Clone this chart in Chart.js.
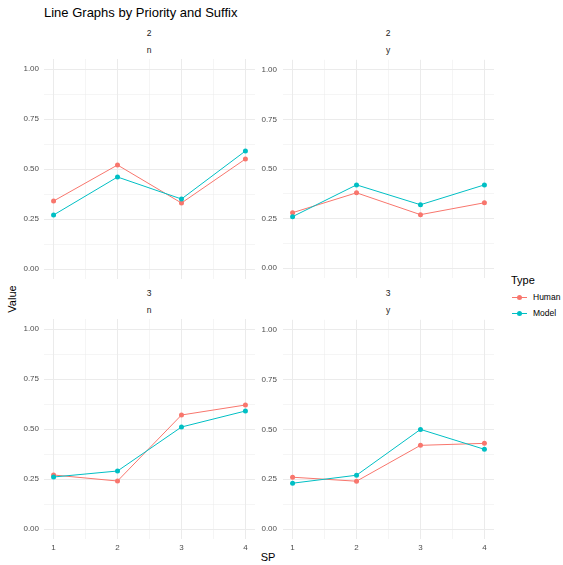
<!DOCTYPE html>
<html>
<head>
    <title>Line Graphs by Priority and Suffix</title>
    <script src="https://cdn.jsdelivr.net/npm/chart.js"></script>
    <style>
        body { margin: 0; background: #fff; font-family: "Liberation Sans", Arial, Helvetica, sans-serif; }
        #wrap { position: relative; width: 563px; height: 565px; overflow: hidden; }
        .panel { position: absolute; }
        .txt { position: absolute; white-space: nowrap; line-height: 1; }
        .strip { font-size: 8.5px; color: #1a1a1a; transform: translate(-50%, -50%); }
        .key { position: absolute; }
    </style>
</head>
<body>
<div id="wrap">
    <div class="txt" style="left:44px; top:6px; font-size:13px; color:#000;">Line Graphs by Priority and Suffix</div>

    <div class="txt strip" style="left:149px; top:33px;">2</div>
    <div class="txt strip" style="left:149px; top:50px;">n</div>
    <div class="txt strip" style="left:388px; top:33px;">2</div>
    <div class="txt strip" style="left:388px; top:50px;">y</div>
    <div class="txt strip" style="left:149px; top:293px;">3</div>
    <div class="txt strip" style="left:149px; top:310px;">n</div>
    <div class="txt strip" style="left:388px; top:293px;">3</div>
    <div class="txt strip" style="left:388px; top:310px;">y</div>

    <div class="txt" style="left:12px; top:299px; font-size:11px; color:#000; transform: translate(-50%, -50%) rotate(-90deg);">Value</div>
    <div class="txt" style="left:268px; top:557px; font-size:11px; color:#000; transform: translate(-50%, -50%);">SP</div>

    <div id="legend"></div>

    <div class="panel" style="left:0px; top:49px;"><canvas id="p1" width="265" height="240"></canvas></div>
    <div class="panel" style="left:258px; top:49px;"><canvas id="p2" width="246" height="240"></canvas></div>
    <div class="panel" style="left:0px; top:309px;"><canvas id="p3" width="265" height="246"></canvas></div>
    <div class="panel" style="left:258px; top:309px;"><canvas id="p4" width="246" height="246"></canvas></div>
</div>

<script>
// SP positions and tick labels
const sp = [1, 2, 3, 4];
const xMinor = [1.5, 2.5, 3.5];
const yTicks = [0, 0.25, 0.5, 0.75, 1];
const yTickLabels = ['0.00', '0.25', '0.50', '0.75', '1.00'];
const yMinor = [0.125, 0.375, 0.625, 0.875];

// series values, one pair per facet (priority / suffix)
const human2n = [0.34, 0.52, 0.33, 0.55];
const model2n = [0.27, 0.46, 0.35, 0.59];
const human2y = [0.28, 0.38, 0.27, 0.33];
const model2y = [0.26, 0.42, 0.32, 0.42];
const human3n = [0.27, 0.24, 0.57, 0.62];
const model3n = [0.26, 0.29, 0.51, 0.59];
const human3y = [0.26, 0.24, 0.42, 0.43];
const model3y = [0.23, 0.27, 0.50, 0.40];

const types = ['Human', 'Model'];
const colors = ['#F8766D', '#00BFC4'];

const gridColor = '#EBEBEB';
const tickColor = '#4D4D4D';
const font = '"Liberation Sans", Arial, Helvetica, sans-serif';

function isMajor(v, list) {
    return list.some(t => Math.abs(t - v) < 1e-9);
}

function makePanel(id, human, model, showX, yWidth, yPad) {
    const series = [human, model];
    const datasets = series.map((vals, i) => ({
        label: types[i],
        data: sp.map((x, j) => ({ x: x, y: vals[j] })),
        borderColor: colors[i],
        backgroundColor: colors[i],
        borderWidth: 1,
        pointRadius: 2.5,
        pointBorderWidth: 0,
        pointBackgroundColor: colors[i],
        tension: 0,
        fill: false,
        order: 1 - i
    }));

    new Chart(document.getElementById(id).getContext('2d'), {
        type: 'line',
        data: { datasets: datasets },
        options: {
            responsive: false,
            animation: false,
            layout: { padding: { left: 0, top: 10, right: 10, bottom: showX ? 2 : 10 } },
            plugins: { legend: { display: false }, tooltip: { enabled: false } },
            scales: {
                x: {
                    type: 'linear',
                    min: 0.85,
                    max: 4.15,
                    border: { display: false },
                    afterBuildTicks: s => {
                        s.ticks = sp.concat(xMinor).sort((a, b) => a - b).map(v => ({ value: v }));
                    },
                    afterFit: s => { s.height = showX ? 14 : 0; },
                    grid: {
                        drawTicks: false,
                        color: c => gridColor,
                        lineWidth: c => isMajor(c.tick.value, sp) ? 1 : 0.5
                    },
                    ticks: {
                        display: showX,
                        padding: 4,
                        maxRotation: 0,
                        autoSkip: false,
                        color: tickColor,
                        font: { family: font, size: 8 },
                        callback: v => isMajor(v, sp) ? String(v) : ''
                    }
                },
                y: {
                    type: 'linear',
                    min: -0.05,
                    max: 1.05,
                    border: { display: false },
                    afterBuildTicks: s => {
                        s.ticks = yTicks.concat(yMinor).sort((a, b) => a - b).map(v => ({ value: v }));
                    },
                    afterFit: s => { s.width = yWidth; },
                    grid: {
                        drawTicks: false,
                        color: c => gridColor,
                        lineWidth: c => isMajor(c.tick.value, yTicks) ? 1 : 0.5
                    },
                    ticks: {
                        padding: yPad,
                        autoSkip: false,
                        color: tickColor,
                        font: { family: font, size: 8 },
                        callback: v => {
                            const k = yTicks.findIndex(t => Math.abs(t - v) < 1e-9);
                            return k >= 0 ? yTickLabels[k] : '';
                        }
                    }
                }
            }
        }
    });
}

makePanel('p1', human2n, model2n, false, 44, 5);
makePanel('p2', human2y, model2y, false, 25, 6);
makePanel('p3', human3n, model3n, true, 44, 5);
makePanel('p4', human3y, model3y, true, 25, 6);

// legend for Type
const legend = document.getElementById('legend');
let html = '<div class="txt" style="left:511px; top:275px; font-size:11px; color:#000;">Type</div>';
types.forEach((t, i) => {
    const y = 297 + i * 16.5;
    html += '<div class="key" style="left:512px; top:' + (y - 0.5) + 'px; width:15px; height:1px; background:' + colors[i] + ';"></div>';
    html += '<div class="key" style="left:517px; top:' + (y - 2.5) + 'px; width:5px; height:5px; border-radius:50%; background:' + colors[i] + ';"></div>';
    html += '<div class="txt" style="left:533px; top:' + (y - 4.5) + 'px; font-size:8.5px; color:#000;">' + t + '</div>';
});
legend.innerHTML = html;
</script>
</body>
</html>
